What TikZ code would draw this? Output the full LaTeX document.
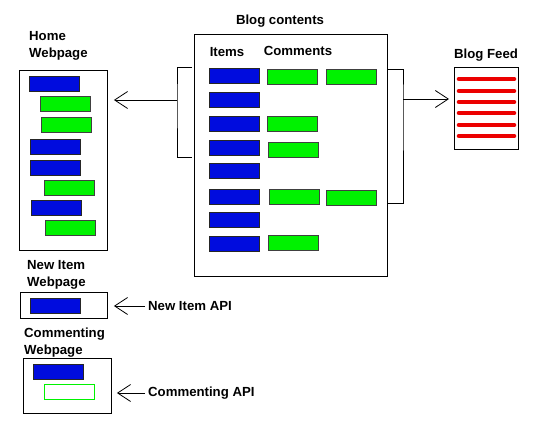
\documentclass[tikz,border=0pt]{standalone}
\usepackage{fontspec}
\setmainfont{Liberation Sans}
\usetikzlibrary{arrows.meta,positioning}
\definecolor{itemblue}{RGB}{0,12,222}
\definecolor{commgreen}{RGB}{0,242,0}
\definecolor{feedred}{RGB}{236,0,0}
\tikzset{
  page/.style={draw=black,fill=white,anchor=north west,inner sep=0pt,line width=0.9pt},
  item/.style={draw=black!85,fill=itemblue,anchor=north west,minimum width=50pt,
    minimum height=15pt,inner sep=0pt,line width=0.8pt},
  comm/.style={item,draw=black!75,fill=commgreen},
  hdr/.style={font=\bfseries\fontsize{13.2}{17}\selectfont,align=left,inner sep=0pt},
  arr/.style={-{Straight Barb[length=13pt,width=17pt]},line width=0.8pt},
  feedln/.style={feedred,line width=4.6pt,line cap=round},
}
\begin{document}
\begin{tikzpicture}[x=1pt,y=-1pt]
\useasboundingbox (0,0) rectangle (534,425);
% blog contents
\node[page,minimum width=193pt,minimum height=242pt] (blog) at (194,34) {};
\node[hdr] (blogt) at (280,21) {Blog contents};
\node[hdr] (itemt) at (227,52) {Items};
\node[hdr] (commt) at (298,51) {Comments};
\foreach \y [count=\i] in {68,92,116,140,163,189,212,236}
  \node[item] (it\i) at (209,\y) {};
\foreach \n/\x/\y in {a/267/69,b/326/69,c/267/116,d/268/142,e/269/189,f/326/190,g/268/235}
  \node[comm] (cm\n) at (\x,\y) {};
% home webpage
\node[page,minimum width=88pt,minimum height=180pt] (home) at (19,70) {};
\node[hdr,anchor=north west] (homet) at (29,31) {Home\\Webpage};
\foreach \x/\y [count=\i] in {29/76,30/139,30/160,31/200}
  \node[item] (hb\i) at (\x,\y) {};
\foreach \x/\y [count=\i] in {40/96,41/117,44/180,45/220}
  \node[comm] (hg\i) at (\x,\y) {};
% blog feed
\node[page,minimum width=64pt,minimum height=82pt] (feed) at (454,67) {};
\node[hdr] (feedt) at (486,55) {Blog Feed};
\foreach \y in {79,91,102,113,125,136}
  \draw[feedln] (459,\y) -- (514,\y);
% new item webpage
\node[page,minimum width=87pt,minimum height=26pt] (newpg) at (20,292) {};
\node[hdr,anchor=north west] (newt) at (27,260) {New Item\\Webpage};
\node[item] (nb) at (30,298) {};
\node[hdr,anchor=west] (newapi) at (148,306) {New Item API};
% commenting webpage
\node[page,minimum width=88pt,minimum height=55pt] (cmtpg) at (23,358) {};
\node[hdr,anchor=north west] (cmtt) at (24,328) {Commenting\\Webpage};
\node[item] (cb) at (33,364) {};
\node[comm,draw=commgreen,fill=white] (cg) at (44,384) {};
\node[hdr,anchor=west] (cmtapi) at (148,393) {Commenting API};
% brackets
\coordinate (lt) at (192,67);
\coordinate (lm) at (177,100);
\coordinate (lb) at (192,157);
\draw[line width=0.8pt] (lt) -| (lm) |- (lb);
\coordinate (rt) at (387,69);
\coordinate (rm) at (403,99);
\coordinate (rb) at (387,203);
\draw[line width=0.8pt] (rt) -| (rm) |- (rb);
% arrows
\draw[arr,shorten >=6pt] (lm) -- (lm -| home.east);
\draw[arr,shorten >=5pt] (rm) -- (rm -| feed.west);
\draw[arr,shorten <=3pt,shorten >=6pt] (newapi.west) -- (newapi.west -| newpg.east);
\draw[arr,shorten <=3pt,shorten >=5pt] (cmtapi.west) -- (cmtapi.west -| cmtpg.east);
\end{tikzpicture}
\end{document}
